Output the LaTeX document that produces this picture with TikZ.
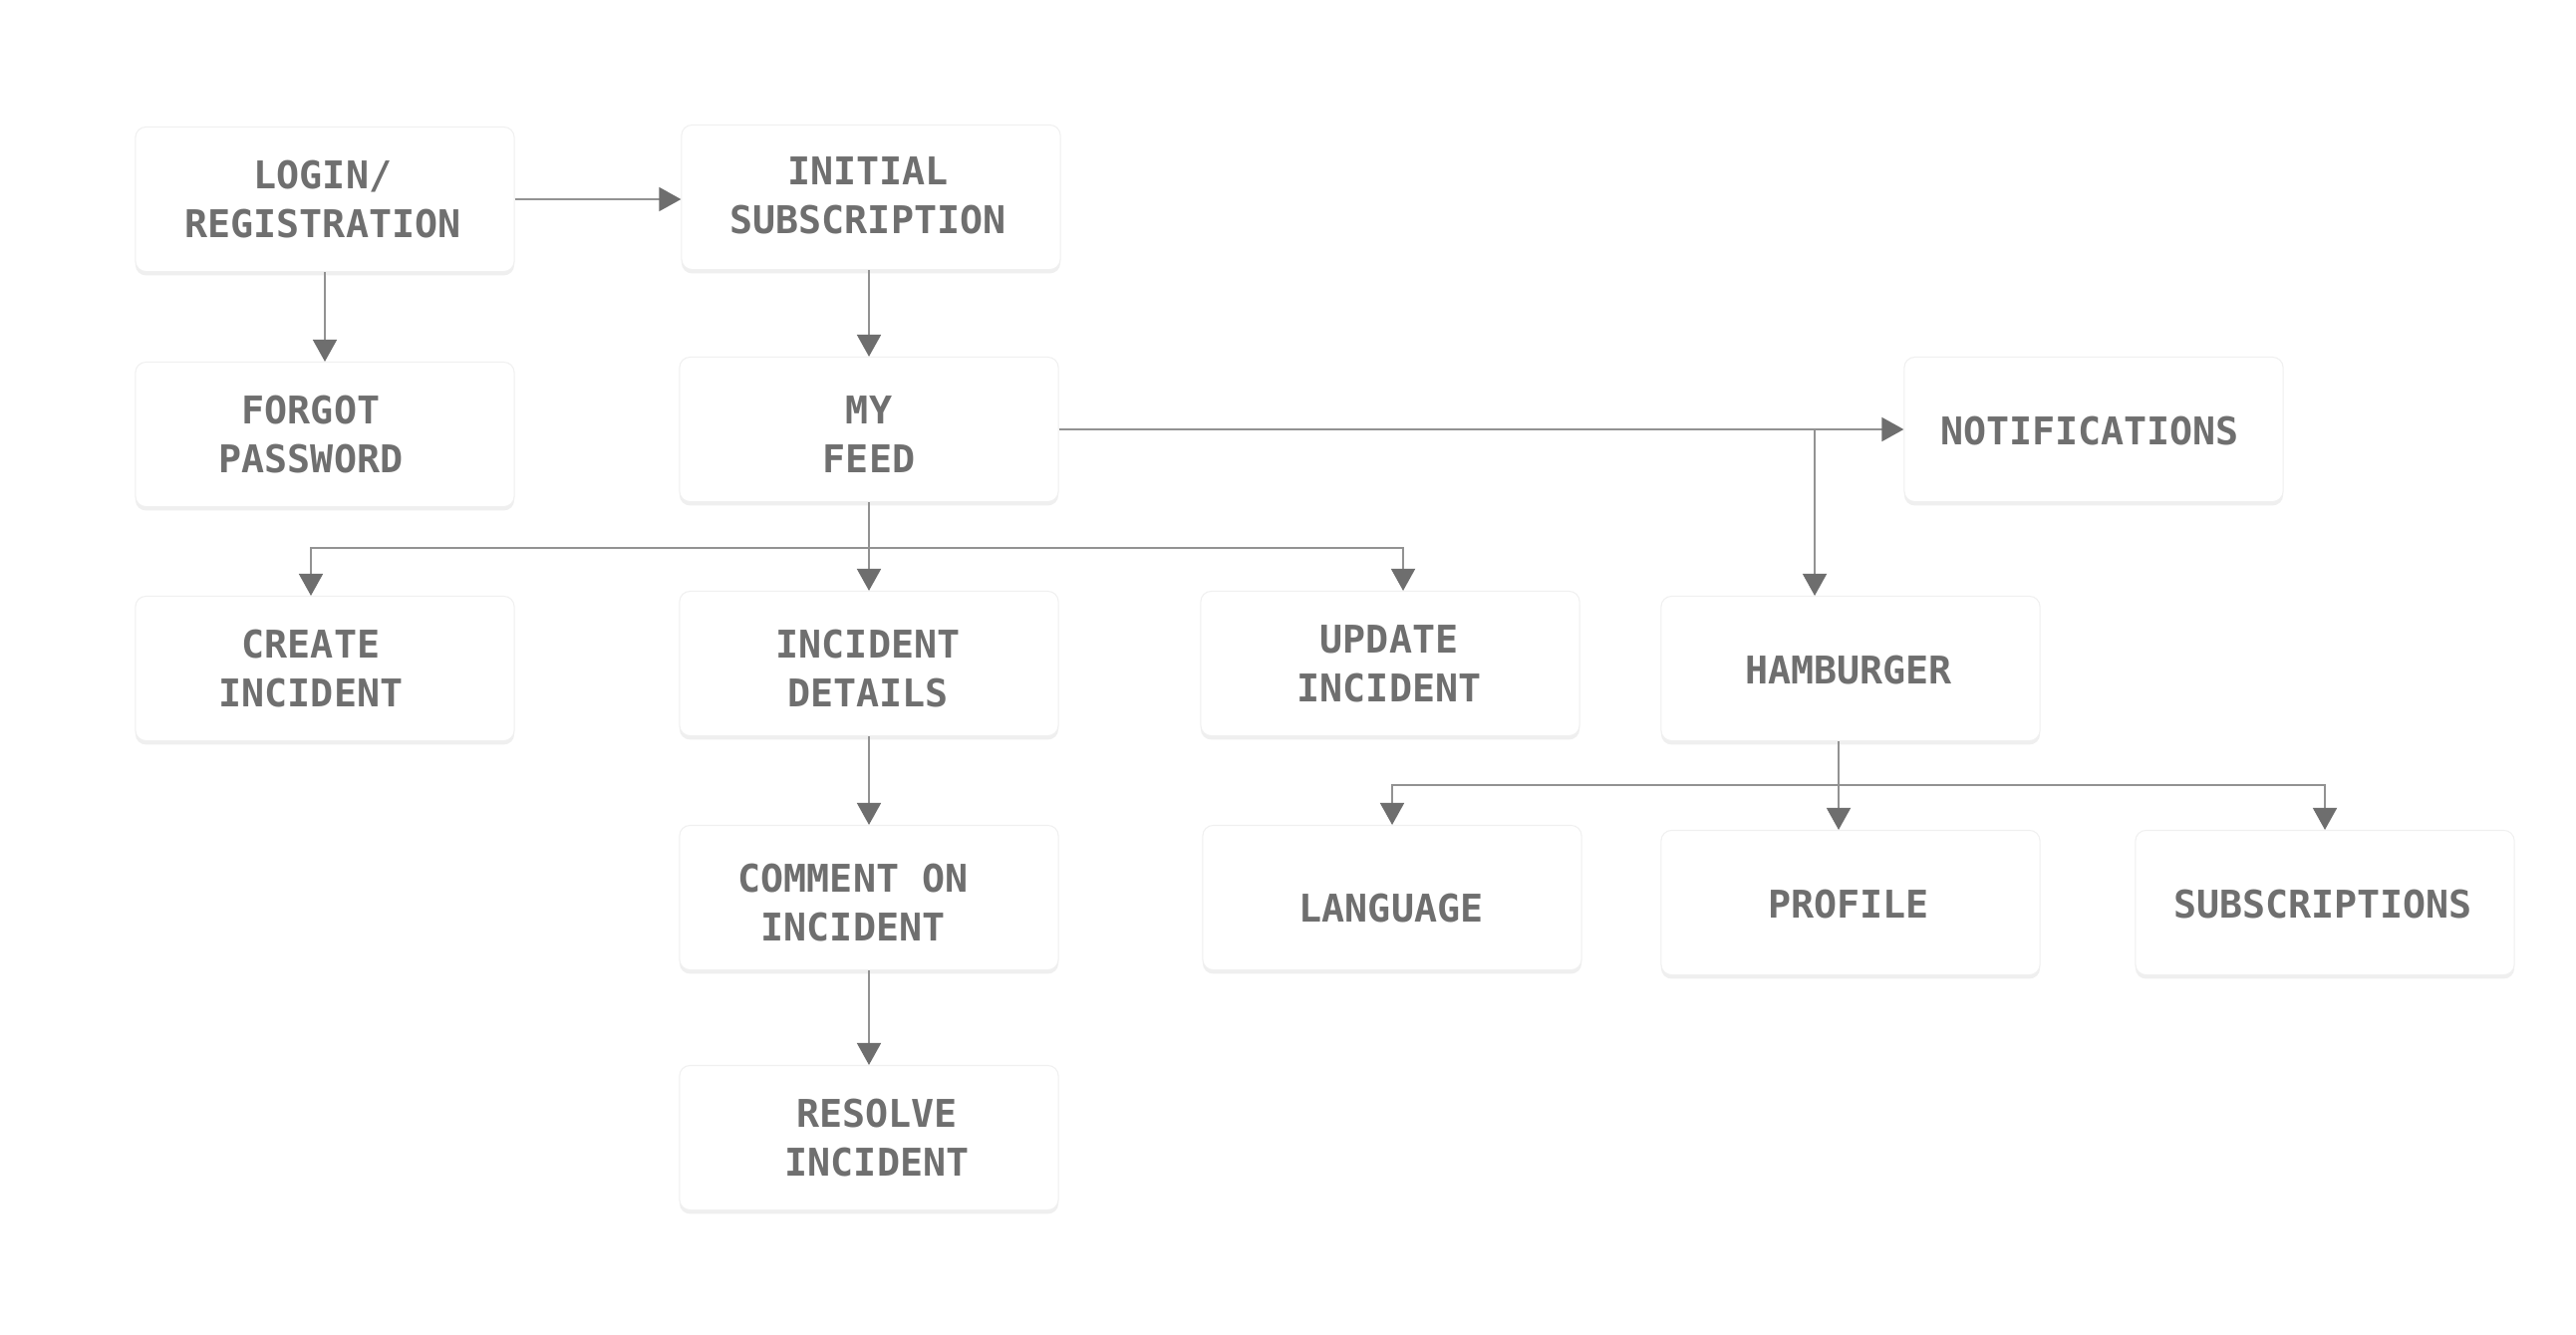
\documentclass[tikz,border=0pt]{standalone}
\usepackage{fontspec}
\usetikzlibrary{positioning, arrows.meta, shadows}
\newfontfamily\screenfont{DejaVu Sans Mono}
\definecolor{labelgray}{HTML}{6F6F6F}
\definecolor{linegray}{HTML}{929292}
\definecolor{tipgray}{HTML}{6E6E6E}
\tikzset{%
  screen/.style={
    rectangle,
    rounded corners=3pt,
    fill=white,
    draw=black!6,
    line width=0.3pt,
    minimum width=3.8cm,
    minimum height=1.45cm,
    drop shadow={opacity=0.12, shadow xshift=0pt, shadow yshift=-1.1pt}
  },
  caption/.style={
    font=\screenfont\bfseries\fontsize{10.9pt}{13.9pt}\selectfont,
    text=labelgray,
    align=center
  },
  link/.style={
    draw=linegray,
    line width=0.5pt,
    -{Triangle[width=0.24cm, length=0.22cm, color=tipgray]}
  }
}

\begin{document}
\begin{tikzpicture}[x=0.01cm, y=-0.01cm]
		\fill[white] (0,0) rectangle (2585,1339);
		\useasboundingbox (0,0) rectangle (2585,1339);
		% start
		\node[screen] (login) at (326,200) {};
		\node[caption] (logintxt) at (324,200) {LOGIN/\\REGISTRATION};
		\node[screen] (initial) at (874,198) {};
		\node[caption] (initialtxt) at (871,196) {INITIAL\\SUBSCRIPTION};
		\node[screen] (forgot) at (326,436) {};
		\node[caption] (forgottxt) at (312,436) {FORGOT\\PASSWORD};
		\node[screen] (feed) at (872,431) {};
		\node[caption] (feedtxt) at (872,436) {MY\\FEED};
		\node[screen] (notif) at (2101,431) {};
		\node[caption] (notiftxt) at (2097,433) {NOTIFICATIONS};
		% incidents
		\node[screen] (create) at (326,671) {};
		\node[caption] (createtxt) at (312,671) {CREATE\\INCIDENT};
		\node[screen] (details) at (872,666) {};
		\node[caption] (detailstxt) at (871,671) {INCIDENT\\DETAILS};
		\node[screen] (update) at (1395,666) {};
		\node[caption] (updatetxt) at (1394,666) {UPDATE\\INCIDENT};
		\node[screen] (comment) at (872,901) {};
		\node[caption] (commenttxt) at (856,906) {COMMENT ON\\INCIDENT};
		\node[screen] (resolve) at (872,1142) {};
		\node[caption] (resolvetxt) at (880,1142) {RESOLVE\\INCIDENT};
		% menu
		\node[screen] (hamb) at (1857,671) {};
		\node[caption] (hambtxt) at (1855,673) {HAMBURGER};
		\node[screen] (lang) at (1397,901) {};
		\node[caption] (langtxt) at (1396,912) {LANGUAGE};
		\node[screen] (profile) at (1857,906) {};
		\node[caption] (profiletxt) at (1855,908) {PROFILE};
		\node[screen] (subs) at (2333,906) {};
		\node[caption] (substxt) at (2331,908) {SUBSCRIPTIONS};
		% forks
		\coordinate (feedfork) at (872,550);
		\coordinate (navfork) at (1821,431);
		\coordinate (menufork) at (1845,788);
		% connections
		\draw[link] (login.east) -- (login.east -| initial.west);
		\draw[link] (login.south) -- (forgot.north);
		\draw[link] (initial.south -| feed) -- (feed.north);
		\draw[link] (feed.east) -- (notif.west);
		\draw[link] (navfork) -- (navfork |- hamb.north);
		\draw[link] (feed.south) -- (details.north);
		\draw[link] (feedfork) -| (create.north -| createtxt);
		\draw[link] (feedfork) -| ([xshift=0.13cm]update.north);
		\draw[link] (details.south) -- (comment.north);
		\draw[link] (comment.south) -- (resolve.north);
		\draw[link] (menufork |- hamb.south) -- (menufork |- profile.north);
		\draw[link] (menufork) -| (lang.north);
		\draw[link] (menufork) -| (subs.north);
\end{tikzpicture}
\end{document}
